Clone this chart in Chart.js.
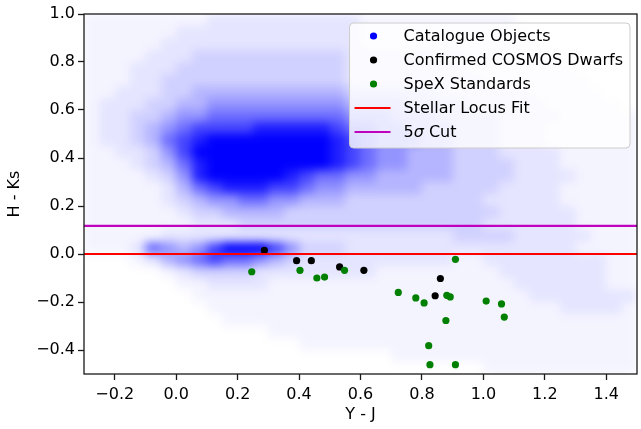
<!DOCTYPE html>
<html>
<head>
<meta charset="utf-8">
<script src="https://cdn.jsdelivr.net/npm/chart.js@4.4.0/dist/chart.umd.min.js"></script>
<style>
  html, body { margin: 0; padding: 0; background: #fff; }
  #wrap { width: 641px; height: 429px; }
</style>
</head>
<body>
<div id="wrap"><canvas id="chart" width="641" height="429"></canvas></div>
<script>
// axis ranges and ticks
const xMin = -0.3, xMax = 1.5;
const yMin = -0.5, yMax = 1.0;
const xTickValues = [-0.2, 0.0, 0.2, 0.4, 0.6, 0.8, 1.0, 1.2, 1.4];
const yTickValues = [-0.4, -0.2, 0.0, 0.2, 0.4, 0.6, 0.8, 1.0];

// catalogue cloud, read off the picture as density levels (0-9)
// on a 0.05 x 0.05 grid: rows from y=1.0 downward, columns from x=-0.3
const gridX0 = -0.3, gridY0 = 1.0, cellStep = 0.05;
const catalogueDensity = [
  "111111112222222222111111111100000000",
  "111111222222222222111111111110000000",
  "111112222222222222111111111111000000",
  "111122233333333332222222211111100000",
  "111222333333333332222222211111110000",
  "111223333333333332222222221111111000",
  "112223344444444443333332222221111100",
  "122233445555555554444333322222111110",
  "122334556666666665554443333222211111",
  "122345677778888876655444333222111111",
  "122346789999999987655544333222111111",
  "112235799999999987655444333222211111",
  "111234689999999987655444333322211111",
  "111123589999987665544444333322221111",
  "111112467888776554444433333222211111",
  "111112345566554443333333332222211111",
  "111111233444433333333333333222221111",
  "111111122233333333333333332222221111",
  "111112222222222222222222333322222111",
  "111265457999753332222222222222221111",
  "000124567665432222222222112222222211",
  "000001233332222222211111111222222211",
  "000000112222111111111111111122222211",
  "000000011111111111111111111112222222",
  "000000001111111111111111111111122221",
  "000000000111111111111111111111111111",
  "000000000000111111111111111111111111",
  "000000000000001111111111111111111111",
  "000000000000000000001111111111111111",
  "000000000000000000000000001111111111"
];
const levelAlpha = [0, 0.045, 0.1, 0.18, 0.29, 0.42, 0.57, 0.73, 0.88, 1];

const confirmedX = [0.287, 0.392, 0.440, 0.532, 0.611, 0.860, 0.843];
const confirmedY = [0.015, -0.028, -0.028, -0.054, -0.068, -0.102, -0.174];

const spexX = [0.246, 0.403, 0.458, 0.483, 0.548, 0.723, 0.780, 0.807, 0.881,
               0.892, 0.909, 0.878, 0.822, 0.826, 0.909, 1.009, 1.059, 1.068];
const spexY = [-0.074, -0.068, -0.100, -0.096, -0.068, -0.160, -0.183, -0.204, -0.172,
               -0.179, -0.022, -0.277, -0.382, -0.461, -0.461, -0.196, -0.208, -0.263];

const locusFitY = 0.0;
const cutY = 0.117;

const FONT = '"DejaVu Sans", "Liberation Sans", sans-serif';

const catalogueCells = [];
catalogueDensity.forEach((row, j) => {
  for (let i = 0; i < row.length; i++) {
    const level = Number(row[i]);
    if (!level) continue;
    catalogueCells.push({ x: gridX0 + (i + 0.5) * cellStep, y: gridY0 - (j + 0.5) * cellStep, level });
  }
});

const toPoints = (xs, ys) => xs.map((x, i) => ({ x, y: ys[i] }));
const fmt = v => v.toFixed(1).replace('-', '\u2212');

// the catalogue cloud is painted as density cells on a side layer,
// then blurred once so it reads as a soft cloud
const cloudLayer = {
  id: 'cloudLayer',
  beforeDatasetDraw(chart, args) {
    if (args.index !== 0) return;
    const { ctx, chartArea: a, scales } = chart;
    const off = document.createElement('canvas');
    off.width = chart.width;
    off.height = chart.height;
    const o = off.getContext('2d');
    chart.data.datasets[0].data.forEach(c => {
      const x0 = Math.round(scales.x.getPixelForValue(c.x - cellStep / 2));
      const x1 = Math.round(scales.x.getPixelForValue(c.x + cellStep / 2));
      const y0 = Math.round(scales.y.getPixelForValue(c.y + cellStep / 2));
      const y1 = Math.round(scales.y.getPixelForValue(c.y - cellStep / 2));
      o.fillStyle = `rgba(0,0,255,${levelAlpha[c.level]})`;
      o.fillRect(x0, y0, x1 - x0, y1 - y0);
    });
    ctx.save();
    ctx.beginPath();
    ctx.rect(a.left, a.top, a.right - a.left, a.bottom - a.top);
    ctx.clip();
    ctx.filter = 'blur(5px)';
    ctx.drawImage(off, 0, 0);
    ctx.restore();
    return false;
  }
};

const frame = {
  id: 'frame',
  afterDatasetsDraw(chart) {
    const { ctx, chartArea: a } = chart;
    ctx.save();
    ctx.strokeStyle = '#1a1a1a';
    ctx.lineWidth = 1.3;
    ctx.strokeRect(a.left, a.top, a.right - a.left, a.bottom - a.top);
    ctx.restore();
  }
};

function drawLabel(ctx, text, x, y) {
  const parts = text.split('σ');
  let cx = x;
  parts.forEach((p, k) => {
    ctx.font = '16px ' + FONT;
    ctx.fillText(p, cx, y);
    cx += ctx.measureText(p).width;
    if (k < parts.length - 1) {
      ctx.font = 'italic 16px ' + FONT;
      ctx.fillText('σ', cx, y);
      cx += ctx.measureText('σ').width;
    }
  });
}

const legendBox = {
  id: 'legendBox',
  afterDraw(chart) {
    const { ctx, chartArea: a } = chart;
    const items = chart.data.datasets;
    ctx.save();
    ctx.font = '16px ' + FONT;
    const textW = Math.max(...items.map(d => ctx.measureText(d.label).width));
    const w = 54 + textW + 7;
    const h = 125;
    const right = a.right - 7;
    const left = right - w;
    const top = a.top + 9;
    const r = 4;
    ctx.beginPath();
    ctx.moveTo(left + r, top);
    ctx.arcTo(right, top, right, top + h, r);
    ctx.arcTo(right, top + h, left, top + h, r);
    ctx.arcTo(left, top + h, left, top, r);
    ctx.arcTo(left, top, right, top, r);
    ctx.closePath();
    ctx.fillStyle = 'rgba(255,255,255,0.8)';
    ctx.fill();
    ctx.strokeStyle = '#cccccc';
    ctx.lineWidth = 1;
    ctx.stroke();

    items.forEach((d, k) => {
      const y = top + 13 + k * 24;
      if (d.type === 'line') {
        ctx.strokeStyle = d.borderColor;
        ctx.lineWidth = d.borderWidth;
        ctx.beginPath();
        ctx.moveTo(left + 5, y);
        ctx.lineTo(left + 41, y);
        ctx.stroke();
      } else {
        ctx.fillStyle = d.legendColor;
        ctx.beginPath();
        ctx.arc(left + 24, y, 3.6, 0, Math.PI * 2);
        ctx.fill();
      }
      ctx.fillStyle = '#000';
      ctx.textBaseline = 'middle';
      ctx.textAlign = 'left';
      drawLabel(ctx, d.label, left + 54, y + 1);
    });
    ctx.restore();
  }
};

const axisCommon = {
  border: { display: false },
  grid: { display: true, drawOnChartArea: false, drawTicks: true, tickLength: 6, tickWidth: 1.3, tickColor: '#1a1a1a' },
  ticks: { color: '#000', font: { family: FONT, size: 16 }, padding: 3, autoSkip: false, maxRotation: 0, callback: v => fmt(v) }
};

new Chart(document.getElementById('chart'), {
  type: 'scatter',
  data: {
    datasets: [
      {
        label: 'Catalogue Objects',
        data: catalogueCells,
        legendColor: '#0000ff',
        backgroundColor: '#0000ff',
        pointRadius: 0,
        order: 4
      },
      {
        label: 'Confirmed COSMOS Dwarfs',
        data: toPoints(confirmedX, confirmedY),
        legendColor: '#000000',
        backgroundColor: '#000000',
        pointRadius: 3.6,
        pointBorderWidth: 0,
        order: 3
      },
      {
        label: 'SpeX Standards',
        data: toPoints(spexX, spexY),
        legendColor: '#008000',
        backgroundColor: '#008000',
        pointRadius: 3.6,
        pointBorderWidth: 0,
        order: 2
      },
      {
        type: 'line',
        label: 'Stellar Locus Fit',
        data: [{ x: xMin, y: locusFitY }, { x: xMax, y: locusFitY }],
        borderColor: '#ff0000',
        borderWidth: 2.2,
        pointRadius: 0,
        order: 1
      },
      {
        type: 'line',
        label: '5σ Cut',
        data: [{ x: xMin, y: cutY }, { x: xMax, y: cutY }],
        borderColor: '#bf00bf',
        borderWidth: 2.2,
        pointRadius: 0,
        order: 0
      }
    ]
  },
  options: {
    responsive: false,
    animation: false,
    events: [],
    devicePixelRatio: 1,
    layout: { padding: { top: 14, right: 4, left: 0, bottom: 0 } },
    plugins: { legend: { display: false }, tooltip: { enabled: false } },
    scales: {
      x: {
        ...axisCommon,
        type: 'linear',
        min: xMin, max: xMax,
        ticks: { ...axisCommon.ticks, padding: 5 },
        afterBuildTicks: s => { s.ticks = xTickValues.map(value => ({ value })); },
        afterFit: s => { s.height = 55; },
        title: { display: true, text: 'Y - J', color: '#000', font: { family: FONT, size: 16 }, padding: { top: 0, bottom: 5 } }
      },
      y: {
        ...axisCommon,
        type: 'linear',
        min: yMin, max: yMax,
        afterBuildTicks: s => { s.ticks = yTickValues.map(value => ({ value })); },
        afterFit: s => { s.width = 84; },
        title: { display: true, text: 'H - Ks', color: '#000', font: { family: FONT, size: 16 }, padding: { top: 5, bottom: 0 } }
      }
    }
  },
  plugins: [cloudLayer, frame, legendBox]
});
</script>
</body>
</html>
